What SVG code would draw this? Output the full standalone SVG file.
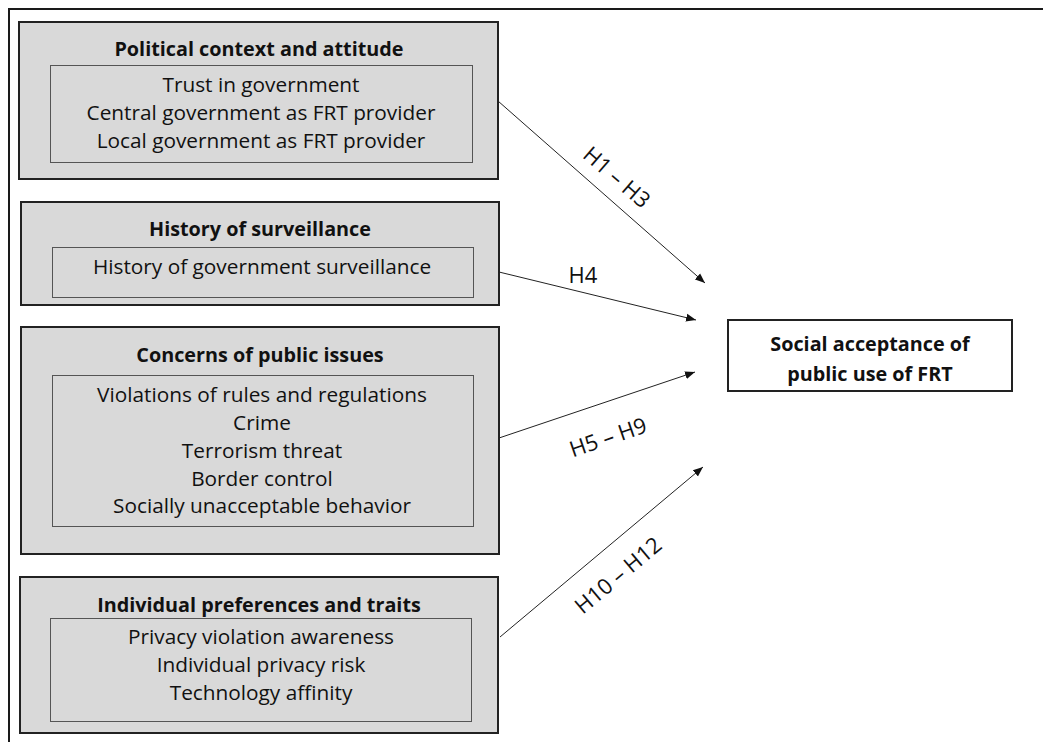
<svg xmlns="http://www.w3.org/2000/svg" width="1043" height="742" viewBox="0 0 1043 742">
  <style>
    .frame { fill: none; stroke: #1a1a1a; stroke-width: 2; }
    .group { fill: #d9d9d9; stroke: #222; stroke-width: 2; }
    .items { fill: none; stroke: #555; stroke-width: 1; }
    .target { fill: #fff; stroke: #222; stroke-width: 2; }
    .title { font-family: "Open Sans", "Noto Sans", sans-serif; font-weight: bold; font-size: 19.8px; fill: #111; text-anchor: middle; }
    .item { font-family: "Open Sans", "Noto Sans", sans-serif; font-size: 20.8px; fill: #111; text-anchor: middle; }
    .hyp { font-family: "Open Sans", "Noto Sans", sans-serif; font-size: 22px; fill: #111; text-anchor: middle; }
    .link { stroke: #222; stroke-width: 1; fill: none; marker-end: url(#arrow); }
  </style>
  <defs>
    <marker id="arrow" viewBox="0 0 10 10" refX="10" refY="5" markerWidth="10" markerHeight="10" markerUnits="userSpaceOnUse" orient="auto">
      <path d="M0,1 L10,5 L0,9 Z" fill="#111"/>
    </marker>
  </defs>

  <rect width="1043" height="742" fill="#fff"/>
  <!-- outer frame (right and bottom edges run off the canvas) -->
  <path class="frame" d="M9,742 L9,9 L1043,9"/>

  <g id="political">
    <rect class="group" x="19" y="22" width="479" height="157"/>
    <text class="title" x="259" y="56">Political context and attitude</text>
    <rect class="items" x="50.5" y="65.5" width="422" height="97"/>
    <text class="item" x="261" y="92">Trust in government</text>
    <text class="item" x="261" y="120">Central government as FRT provider</text>
    <text class="item" x="261" y="148">Local government as FRT provider</text>
  </g>

  <g id="surveillance">
    <rect class="group" x="21" y="202" width="478" height="103"/>
    <text class="title" x="260" y="236">History of surveillance</text>
    <rect class="items" x="52.5" y="247.5" width="421" height="50"/>
    <text class="item" x="262" y="274">History of government surveillance</text>
  </g>

  <g id="public-issues">
    <rect class="group" x="21" y="327" width="478" height="227"/>
    <text class="title" x="260" y="362">Concerns of public issues</text>
    <rect class="items" x="52.5" y="375.5" width="421" height="151"/>
    <text class="item" x="262" y="402">Violations of rules and regulations</text>
    <text class="item" x="262" y="430">Crime</text>
    <text class="item" x="262" y="458">Terrorism threat</text>
    <text class="item" x="262" y="486">Border control</text>
    <text class="item" x="262" y="513">Socially unacceptable behavior</text>
  </g>

  <g id="individual">
    <rect class="group" x="20" y="577" width="478" height="156"/>
    <text class="title" x="259" y="612">Individual preferences and traits</text>
    <rect class="items" x="50.5" y="618.5" width="421" height="103"/>
    <text class="item" x="261" y="644">Privacy violation awareness</text>
    <text class="item" x="261" y="672">Individual privacy risk</text>
    <text class="item" x="261" y="700">Technology affinity</text>
  </g>

  <g id="acceptance">
    <rect class="target" x="728" y="320" width="284" height="71"/>
    <text class="title" x="870" y="351">Social acceptance of</text>
    <text class="title" x="870" y="381">public use of FRT</text>
  </g>

  <g id="connectors">
    <line class="link" x1="498" y1="101" x2="705" y2="283"/>
    <line class="link" x1="499" y1="272" x2="696" y2="320"/>
    <line class="link" x1="499" y1="438" x2="695" y2="372"/>
    <line class="link" x1="500" y1="637" x2="703" y2="467"/>
    <text class="hyp" transform="translate(617,177) rotate(41)" y="8">H1 – H3</text>
    <text class="hyp" x="583" y="283">H4</text>
    <text class="hyp" transform="translate(608,437) rotate(-19)" y="8">H5 – H9</text>
    <text class="hyp" transform="translate(618,575) rotate(-40)" y="8">H10 – H12</text>
  </g>
</svg>
